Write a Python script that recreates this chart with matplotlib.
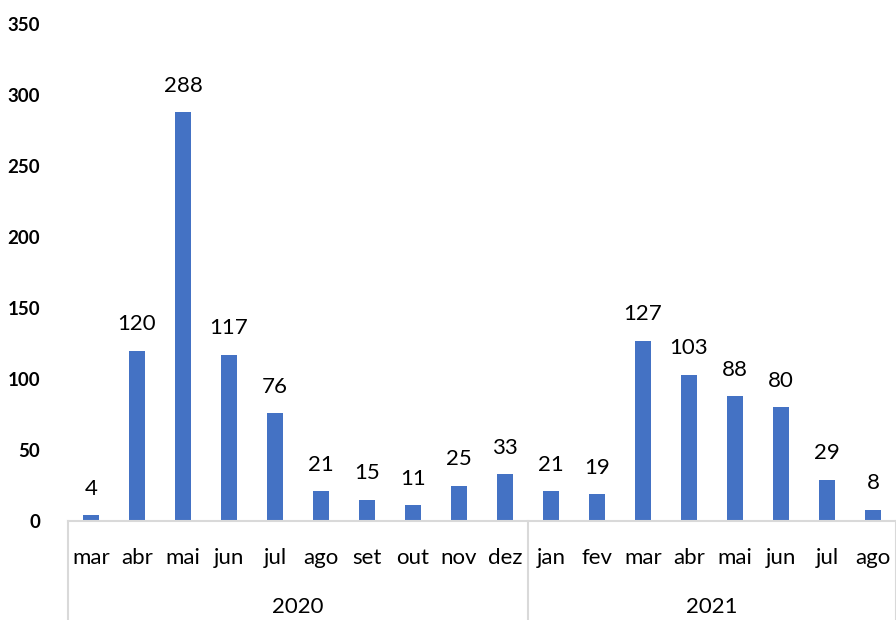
import matplotlib
matplotlib.use("Agg")
import matplotlib.pyplot as plt
from matplotlib.transforms import blended_transform_factory

months = ["mar", "abr", "mai", "jun", "jul", "ago", "set", "out", "nov", "dez",
          "jan", "fev", "mar", "abr", "mai", "jun", "jul", "ago"]
values = [4, 120, 288, 117, 76, 21, 15, 11, 25, 33,
          21, 19, 127, 103, 88, 80, 29, 8]
years = ["2020", "2021"]
year_counts = [10, 8]

plt.rcParams['font.family'] = ['Lato', 'DejaVu Sans']

fig = plt.figure(figsize=(8.96, 6.2), dpi=100)
ax = fig.add_axes([68/896, 99/620, 1 - 68/896, (521-24)/620])

x = list(range(len(values)))
ax.bar(x, values, width=0.36, color="#4472C4")
for xi, v in zip(x, values):
    ax.annotate(str(v), (xi, v), xytext=(0, 19), textcoords="offset points",
                ha="center", va="center", fontsize=16, color="#000000")

ax.set_xlim(-0.5, len(values) - 0.5)
ax.set_ylim(0, 350)
ax.set_yticks(range(0, 351, 50))
ax.tick_params(axis="y", length=0, labelsize=13.5, pad=20)
for lbl in ax.get_yticklabels():
    lbl.set_fontweight("bold")
ax.set_xticks([])
for s in ["top", "right", "left"]:
    ax.spines[s].set_visible(False)
ax.spines["bottom"].set_color("#d9d9d9")
ax.spines["bottom"].set_linewidth(1.5)

trans = blended_transform_factory(ax.transData, fig.transFigure)

# month labels
for xi, m in zip(x, months):
    ax.text(xi, (620-558)/620, m, ha="center", va="center", fontsize=16,
            transform=trans, clip_on=False)

# year labels and separators
start = 0
bounds = [-0.5]
for yr, c in zip(years, year_counts):
    mid = start + (c - 1) / 2
    ax.text(mid, (620-607)/620, yr, ha="center", va="center", fontsize=16,
            transform=trans, clip_on=False)
    start += c
    bounds.append(start - 0.5)
for b in bounds:
    ax.plot([b, b], [0, 99/620], color="#d9d9d9", lw=1.5, transform=trans,
            clip_on=False)

fig.savefig("out.png", dpi=100, facecolor="white")
